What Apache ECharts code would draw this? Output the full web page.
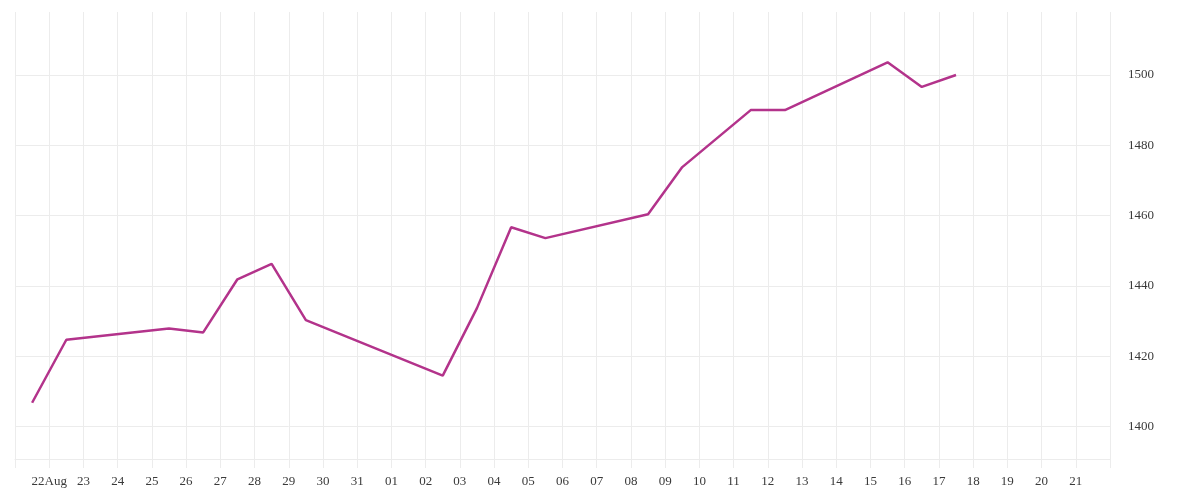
<!DOCTYPE html>
<html>
<head>
<meta charset="utf-8">
<script src="https://cdn.jsdelivr.net/npm/echarts@6/dist/echarts.min.js"></script>
<style>
html,body{margin:0;padding:0;background:#fff;}
#chart{width:1200px;height:500px;}
</style>
</head>
<body>
<div id="chart"></div>
<script>
// Observation dates (each plotted at midday)
const dates = ['2019-08-21','2019-08-22','2019-08-25','2019-08-26','2019-08-27','2019-08-28','2019-08-29',
  '2019-09-02','2019-09-03','2019-09-04','2019-09-05','2019-09-08','2019-09-09','2019-09-11','2019-09-12',
  '2019-09-15','2019-09-16','2019-09-17'];
const values = [1406.8,1424.7,1427.9,1426.8,1441.9,1446.3,1430.3,
  1414.5,1433.7,1456.7,1453.6,1460.4,1473.8,1490.0,1490.0,
  1503.6,1496.6,1500.0];
// Axis range
const axisStart = '2019-08-21';
const axisEnd = '2019-09-22';
// Tick labels for Aug 22 .. Sep 21
const xTickLabels = ['22Aug','23','24','25','26','27','28','29','30','31',
  '01','02','03','04','05','06','07','08','09','10','11','12','13','14','15','16','17','18','19','20','21'];
const yMin = 1390.8, yMax = 1517.9;

const DAY = 86400000;
const t0 = Date.parse(axisStart + 'T00:00:00Z');
const t1 = Date.parse(axisEnd + 'T00:00:00Z');
const seriesData = dates.map((d, i) => [Date.parse(d + 'T12:00:00Z'), values[i]]);

const gridColor = '#ececec';
const textColor = '#3a3a3a';
const font = 'Liberation Serif';

const chart = echarts.init(document.getElementById('chart'));
chart.setOption({
  animation: false,
  grid: { left: 15, right: 90, top: 12, bottom: 41, containLabel: false },
  xAxis: {
    type: 'value',
    min: t0,
    max: t1,
    interval: DAY,
    axisLine: { show: true, lineStyle: { color: gridColor, width: 1 } },
    axisTick: { show: true, length: 9, lineStyle: { color: gridColor } },
    splitLine: { show: true, lineStyle: { color: gridColor, width: 1 } },
    axisLabel: {
      margin: 16,
      color: textColor,
      fontFamily: font,
      fontSize: 13,
      showMinLabel: true,
      showMaxLabel: true,
      formatter: function (v) {
        const idx = Math.round((v - t0) / DAY) - 1;
        return (idx >= 0 && idx < xTickLabels.length) ? xTickLabels[idx] : '';
      }
    }
  },
  yAxis: {
    type: 'value',
    position: 'right',
    min: yMin,
    max: yMax,
    splitNumber: 6,
    axisLine: { show: false },
    axisTick: { show: false },
    splitLine: { show: true, showMinLine: false, showMaxLine: false, lineStyle: { color: gridColor, width: 1 } },
    axisLabel: {
      margin: 18,
      color: textColor,
      fontFamily: font,
      fontSize: 13,
      showMinLabel: false,
      showMaxLabel: false,
      formatter: function (v) { return (v % 20 === 0) ? String(v) : ''; }
    }
  },
  series: [{
    type: 'line',
    data: seriesData,
    showSymbol: false,
    symbol: 'none',
    lineStyle: { color: '#b3338b', width: 2.5 },
    itemStyle: { color: '#b3338b' }
  }]
});
</script>
</body>
</html>
